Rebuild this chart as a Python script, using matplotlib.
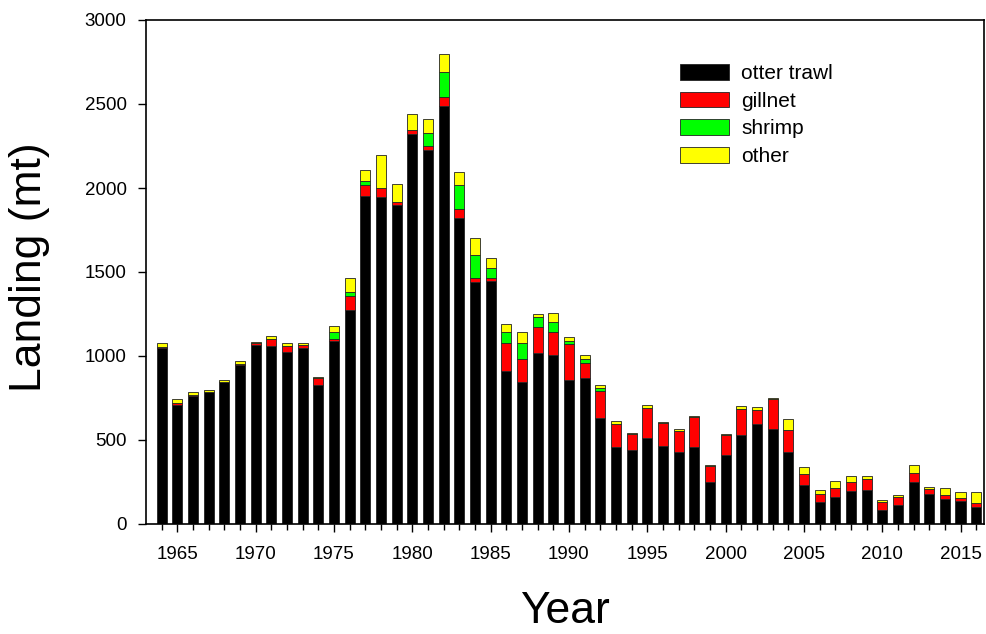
import matplotlib
matplotlib.use("Agg")
import matplotlib.pyplot as plt
import numpy as np

years = list(range(1964, 2017))
otter_trawl = [1045, 706, 762, 788, 845, 948, 1065, 1059, 1024, 1048,
               827, 1091, 1274, 1952, 1946, 1897, 2321, 2226, 2486, 1823,
               1438, 1448, 913, 847, 1016, 1006, 857, 871, 631, 458,
               440, 512, 464, 427, 460, 248, 411, 528, 597, 564,
               427, 230, 131, 163, 196, 202, 83, 111, 248, 177,
               147, 137, 101]
gillnet = [8, 16, 8, 0, 0, 5, 12, 42, 38, 20,
           40, 10, 83, 67, 56, 18, 24, 24, 54, 50,
           24, 16, 163, 133, 159, 137, 212, 89, 159, 135,
           96, 180, 135, 129, 175, 95, 119, 159, 79, 182,
           135, 65, 46, 50, 52, 63, 50, 48, 56, 30,
           24, 16, 24]
shrimp = [0, 0, 0, 0, 0, 0, 0, 0, 0, 0,
          0, 40, 26, 24, 0, 0, 0, 79, 153, 143,
          139, 60, 67, 95, 60, 58, 22, 20, 18, 4,
          0, 0, 0, 0, 0, 0, 0, 0, 0, 0,
          0, 0, 0, 0, 0, 0, 0, 0, 0, 0,
          0, 0, 0]
other = [25, 20, 15, 10, 12, 15, 4, 16, 14, 7,
         6, 40, 83, 63, 192, 107, 93, 79, 103, 79,
         99, 60, 48, 65, 14, 54, 24, 28, 18, 14,
         6, 16, 8, 12, 8, 6, 4, 14, 18, 6,
         61, 42, 26, 44, 40, 18, 8, 16, 46, 12,
         42, 36, 63]

series_names = ["otter trawl", "gillnet", "shrimp", "other"]
series_colors = ["#000000", "#ff0000", "#00ff00", "#ffff00"]

plt.rcParams['font.family'] = ['Liberation Sans', 'DejaVu Sans']

fig = plt.figure(figsize=(9.86, 6.34), dpi=100)
ax = fig.add_axes([146/986, 1-524/634, (984-146)/986, (524-20)/634])

x = np.array(years)
bottom = np.zeros(len(years))
for name, vals, col in zip(series_names, [otter_trawl, gillnet, shrimp, other], series_colors):
    v = np.array(vals, dtype=float)
    ax.bar(x, v, width=0.64, bottom=bottom, color=col, edgecolor='#222222',
           linewidth=0.6, label=name)
    bottom += v

ax.set_xlim(1963.0, 2016.5)
ax.set_ylim(0, 3000)
ax.set_yticks(np.arange(0, 3001, 500))
ax.set_xticks(np.arange(1965, 2016, 5))
ax.set_xticks(years, minor=True)
ax.tick_params(axis='y', direction='out', length=6, width=1, pad=8, labelsize=13.5)
ax.tick_params(axis='x', which='major', direction='out', length=6, width=1, pad=10, labelsize=13.5)
ax.tick_params(axis='x', which='minor', direction='out', length=4, width=1)
for s in ax.spines.values():
    s.set_linewidth(1.2)

ax.set_ylabel("Landing (mt)", fontsize=32)
ax.set_xlabel("Year", fontsize=32)
ax.yaxis.set_label_coords(-0.115, 0.51)
ax.xaxis.set_label_coords(0.5, -0.132)

leg = ax.legend(loc='upper left', bbox_to_anchor=((680-146)/838, (524-64)/504),
                frameon=False, fontsize=15, handlelength=2.35, handleheight=0.8,
                labelspacing=0.4, handletextpad=0.6, borderpad=0, borderaxespad=0)

fig.savefig("out.png", dpi=100)
